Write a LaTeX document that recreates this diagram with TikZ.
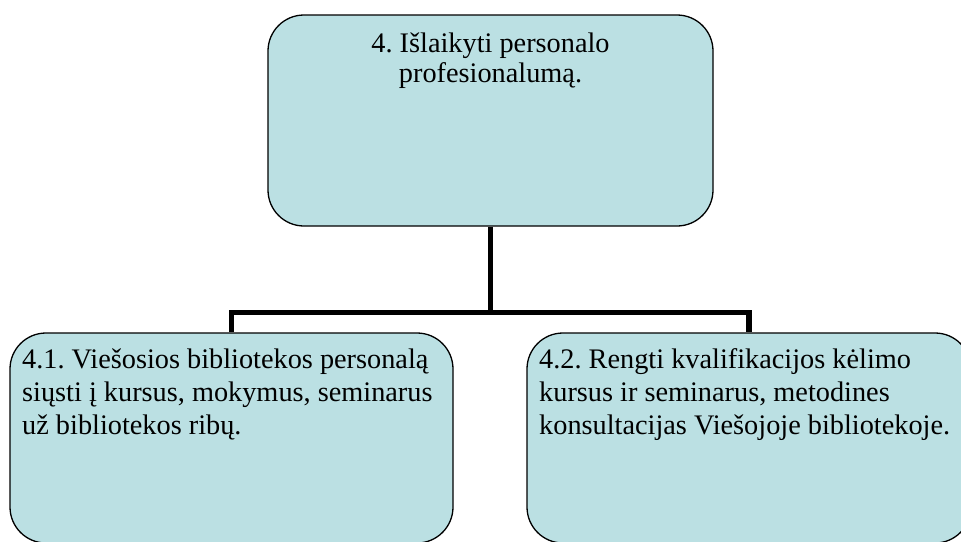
\documentclass[tikz,border=0pt]{standalone}
\usepackage{fontspec}
\setmainfont{Liberation Serif}
\frenchspacing
\definecolor{bleuclair}{RGB}{187,224,227}
\tikzset{
  boite/.style={draw=black, line width=1.3pt, fill=bleuclair, rounded corners=36pt, inner sep=0pt},
  texte/.style={inner sep=0pt, font=\fontsize{28.3}{33}\selectfont},
  liaison/.style={line width=5.5pt}
}
\begin{document}
\begin{tikzpicture}[x=1pt,y=-1pt]
    \useasboundingbox (0,0) rectangle (961,541);
    \clip (0,0) rectangle (961,541);
    % boites
    \node[boite, minimum width=445pt, minimum height=211pt] (haut) at (490.5,120.5) {};
    \node[boite, minimum width=443pt, minimum height=210pt] (gauche) at (231.5,438) {};
    \node[boite, minimum width=444pt, minimum height=210pt] (droite) at (749,438) {};
    % textes (ancre = ligne de base de la derniere ligne)
    \node[texte, font=\fontsize{28.3}{30}\selectfont, align=center, anchor=base] (thaut) at (490.5,82) {4. Išlaikyti personalo\\profesionalumą.};
    \node[texte, align=left, anchor=base west] (tgauche) at (22,434) {4.1. Viešosios bibliotekos personalą\\siųsti į kursus, mokymus, seminarus\\už bibliotekos ribų.};
    \node[texte, align=left, anchor=base west] (tdroite) at (539,434) {4.2. Rengti kvalifikacijos kėlimo\\kursus ir seminarus, metodines\\konsultacijas Viešojoje bibliotekoje.};
    % liaisons
    \coordinate (barre) at (490.5,312.5);
    \draw[liaison] (haut.south) -- (barre);
    \draw[liaison] (gauche.north) |- (barre) -| (droite.north);
\end{tikzpicture}
\end{document}
